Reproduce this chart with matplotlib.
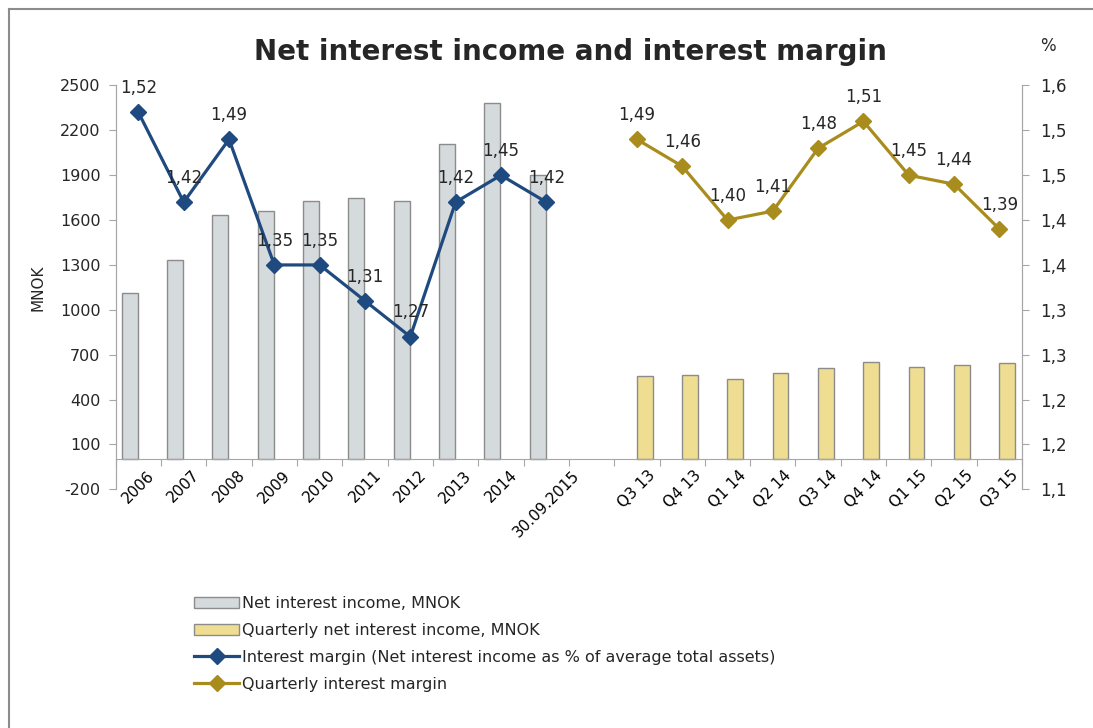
import numpy as np
import matplotlib
matplotlib.use("Agg")
import matplotlib.pyplot as plt
from matplotlib.lines import Line2D

plt.rcParams.update({"font.family": "DejaVu Sans", "font.size": 11,
                     "axes.unicode_minus": False})

# Data
years = ["2006", "2007", "2008", "2009", "2010", "2011", "2012", "2013", "2014", "30.09.2015"]
quarters = ["Q3 13", "Q4 13", "Q1 14", "Q2 14", "Q3 14", "Q4 14", "Q1 15", "Q2 15", "Q3 15"]
nii_annual = [1113, 1331, 1633, 1660, 1727, 1747, 1727, 2107, 2384, 1900]
nii_quarterly = [560, 567, 540, 577, 613, 649, 620, 631, 642]
margin_annual = [1.52, 1.42, 1.49, 1.35, 1.35, 1.31, 1.27, 1.42, 1.45, 1.42]
margin_quarterly = [1.49, 1.46, 1.40, 1.41, 1.48, 1.51, 1.45, 1.44, 1.39]
left_ticks = [-200, 100, 400, 700, 1000, 1300, 1600, 1900, 2200, 2500]
right_ticks = [1.10, 1.15, 1.20, 1.25, 1.30, 1.35, 1.40, 1.45, 1.50, 1.55]
right_labels = ["1,1", "1,2", "1,2", "1,3", "1,3", "1,4", "1,4", "1,5", "1,5", "1,6"]

labels = years + [""] + quarters
x_years = np.arange(len(years))
x_quarters = np.arange(len(years) + 1, len(labels))

blue = "#1f4a7f"
gold = "#a88c1e"
axis_gray = "#a6a6a6"
text_col = "#262626"

fig = plt.figure(figsize=(10.93, 7.28), dpi=100)
ax = fig.add_axes([0.1059, 0.3279, 0.8292, 0.5547])
ax2 = ax.twinx()

bw = 0.35
ax.bar(x_years - 0.19, nii_annual, width=bw, color="#d5dadd",
       edgecolor="#8c8c8c", linewidth=1, label="Net interest income, MNOK")
ax.bar(x_quarters + 0.17, nii_quarterly, width=bw, color="#efdd91",
       edgecolor="#8c8c8c", linewidth=1, label="Quarterly net interest income, MNOK")

ax2.plot(x_years, margin_annual, color=blue, lw=2.3, marker="D", markersize=8,
         label="Interest margin (Net interest income as % of average total assets)")
ax2.plot(x_quarters, margin_quarterly, color=gold, lw=2.3, marker="D", markersize=8,
         label="Quarterly interest margin")

for xs, vals in [(x_years, margin_annual), (x_quarters, margin_quarterly)]:
    for xi, v in zip(xs, vals):
        ax2.annotate("{:.2f}".format(v).replace(".", ","), (xi, v),
                     xytext=(0, 11), textcoords="offset points",
                     ha="center", va="bottom", fontsize=12, color=text_col)

# Axes setup
ax.set_xlim(-0.5, len(labels) - 0.5)
ax.set_ylim(-200, 2500)
ax.set_yticks(left_ticks)
ax2.set_ylim(1.10, 1.55)
ax2.set_yticks(right_ticks)
ax2.set_yticklabels(right_labels)

ax.set_xticks(np.arange(len(labels) + 1) - 0.5)
ax.set_xticklabels([])
ax.set_xticks(np.arange(len(labels)), minor=True)
ax.set_xticklabels(labels, minor=True, fontsize=11.5, color=text_col)
ax.tick_params(axis="x", which="major", direction="out", length=5, color=axis_gray)
ax.tick_params(axis="x", which="minor", length=0, pad=6, labelrotation=45)
for t in ax.get_xticklabels(minor=True):
    t.set_ha("right")
    t.set_rotation_mode("anchor")
ax.tick_params(axis="y", direction="out", length=5, color=axis_gray,
               labelsize=11.5, labelcolor=text_col, pad=6)
ax2.tick_params(axis="y", direction="out", length=5, color=axis_gray,
                labelsize=12, labelcolor=text_col, pad=8)

ax.spines["bottom"].set_position(("data", 0))
for a in (ax, ax2):
    a.spines["top"].set_visible(False)
    for s in ("bottom", "left", "right"):
        a.spines[s].set_color(axis_gray)
ax2.spines["bottom"].set_visible(False)

ax.set_ylabel("MNOK", fontsize=11, color=text_col, labelpad=10)
fig.text(1048 / 1093, 1 - 46 / 728, "%", fontsize=12, color=text_col,
         ha="center", va="center")
fig.text(570 / 1093, 1 - 52 / 728, "Net interest income and interest margin",
         fontsize=20, fontweight="bold", color=text_col, ha="center", va="center")

h1, l1 = ax.get_legend_handles_labels()
h2, l2 = ax2.get_legend_handles_labels()
fig.legend(h1 + h2, l1 + l2, loc="upper left", bbox_to_anchor=(0.172, 0.19),
           frameon=False, fontsize=11.5, handlelength=2.8, handletextpad=0.2,
           labelspacing=0.75, borderaxespad=0, labelcolor=text_col)

# chart border (top and left edges)
fig.add_artist(Line2D([9 / 1093, 9 / 1093], [0, 1 - 9 / 728], color="#8c8c8c", lw=1.5))
fig.add_artist(Line2D([9 / 1093, 1], [1 - 9 / 728, 1 - 9 / 728], color="#8c8c8c", lw=1.5))

plt.savefig("out.png", dpi=100)
